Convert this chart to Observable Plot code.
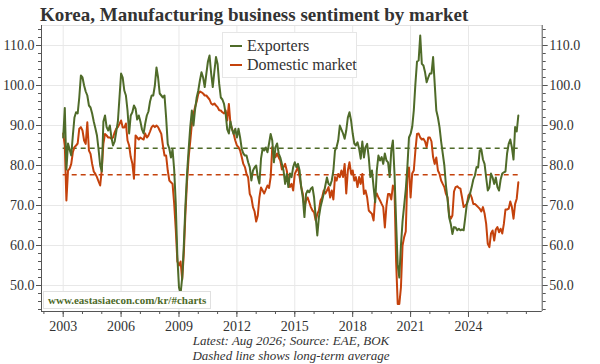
<!DOCTYPE html>
<html><head><meta charset="utf-8">
<script src="https://cdn.jsdelivr.net/npm/d3@7"></script>
<script src="https://cdn.jsdelivr.net/npm/@observablehq/plot@0.6"></script>
<style>
body{margin:0;background:#fff;}
#wrap{position:relative;width:600px;height:364px;font-family:"Liberation Serif",serif;color:#333;}
#chart{position:absolute;left:0;top:0;}
#title{position:absolute;left:40px;top:5px;font-weight:bold;font-size:19px;line-height:19px;color:#333;white-space:nowrap;}
.cap{position:absolute;left:41px;width:500px;text-align:center;font-style:italic;font-size:13px;line-height:13px;color:#333;}
#legend{position:absolute;left:222px;top:32px;width:135px;height:46px;background:#fff;border:1px solid #e6e6e6;box-sizing:border-box;font-size:16px;}
.row{position:absolute;left:7px;white-space:nowrap;line-height:16px;}
.sw{display:inline-block;width:12px;height:2px;vertical-align:middle;margin-right:5px;position:relative;top:-1px;}
#wm{position:absolute;left:43px;top:291px;padding:1px 4px;border:1px solid #e0e0e0;background:#fff;font-weight:bold;font-size:11px;line-height:14px;color:#4e6b2a;white-space:nowrap;}
</style></head><body>
<div id="wrap">
<div id="chart"></div>
<div id="title">Korea, Manufacturing business sentiment by market</div>
<div id="legend"></div>
<div id="wm">www.eastasiaecon.com/kr/#charts</div>
<div class="cap" style="top:334px">Latest: Aug 2026; Source: EAE, BOK</div>
<div class="cap" style="top:349px">Dashed line shows long-term average</div>
</div>
<script>
// Monthly data, Jan 2003 .. Aug 2026
const startYear = 2003;
const seriesNames = ["Exporters", "Domestic market"];
const exporters = [
87,94.4,79,85.5,84,82.5,87.5,92,93.3,93,
97,102.5,102,100,98.5,97.5,95,94.5,93,91,
89.3,87.5,84,80,78.5,91,92.5,89.6,88.75,90,
87,85,86,88.5,91,97,103,102,98.75,97.5,
93.75,88,92.5,93.3,95,94.2,91.5,92.5,91,89,
88,90.5,92.5,93.5,96,97.5,97.5,100,104.5,102,
98,97.5,97,97.5,92,85.4,84.2,82,84,79,
70.5,57,49.5,48,52,60,70,77.9,84,89.6,
93.75,90,94,97,98.75,101.25,103.3,102,99.6,102.9,
106,107.5,103,99.6,103.5,107.1,105.4,100.4,97,96.5,
95.4,93,89,88,91,89,87.9,89.2,87,89.2,
87,84.2,83,82.5,82.5,80.8,79.6,76.25,78.75,79.5,
80,77.1,75.5,81.7,84.2,83.75,84.5,83.3,85.5,87.9,
86.25,80.8,84.6,85.5,83,82,80.4,78.75,75.4,77.9,
74.6,78,77.1,79.6,80.8,79.6,80.4,78.75,74.6,72,
67.1,72.9,73.75,73.3,74.2,74.6,72,67.1,62.5,67.1,
69.6,71.25,73,75,77,75.4,75,76.25,78.75,83.75,
84.6,86.25,90,89,88,86.7,88.75,92,93.3,91.25,
88,85.5,85,85.8,84.2,81.7,86,82,84.6,85.4,
82,77.1,78.75,74.6,70.8,78.75,82.5,81.25,82.1,80.4,
83,81.25,80.8,77.1,83.75,86.25,78,66,55,52,
60,66,70,74,79.6,87,87.9,89.6,93.75,100.4,
106,106.25,112.5,105.4,105,103.3,100.8,102,103,103,
107.1,100.4,93.75,92,89.6,86,83,80,75,71.5,
67,65.4,62.9,64.6,64.5,63.8,64.2,63.8,64,63.8,
67,70.4,71.5,73,74.6,76.5,77.5,79.6,79.5,83.75,
84,81.5,80.4,77,73.75,74.5,78,77,75.4,77,
74.6,73.75,76.5,78,78.3,78.5,83,85.4,86.5,84.5,
81.5,89.6,88.5,92.5
];
const domestic = [
88,85,71.25,78.75,79.2,80.4,83.3,84.6,85,85.5,
89.2,89.6,88.75,86.25,85.4,90.8,83.75,82.9,80.4,78.5,
77.9,77.1,76,75,79,85.5,87.9,87.5,87,87,
86.7,87,88.3,89.2,89.6,90.4,91.25,89.5,89.5,90.5,
86.25,85,82.1,80.5,76.7,87.5,87,86.5,87,86.7,
86.5,88,87,87.5,88.5,89.6,90,89.6,90,89.6,
88.75,87.9,85,82.5,82.5,78.75,76.25,75.8,75.4,70.5,
64,56,55,56,51.5,58,68,76,82,86,
90.4,92.9,94.6,96,97.9,98.5,98.3,98,97.5,97.5,
97,96.5,95.5,95.2,95.5,95,94.6,93.8,93.75,93.3,
93,93.75,91.25,95.4,90.4,89.2,87.9,86.25,85,84.6,
83.75,82.1,80.4,79.6,77.9,77,72.9,72,69.6,68.5,
66,67.5,72,74.5,73.75,73,74,75,74.4,77.1,
84.6,83,82.1,83,82,81.25,79,79.6,80.4,78.75,
76.25,74.6,75.4,73.75,77.9,78.75,79.6,77.1,74.6,72.9,
69.6,71.25,72,70.8,69.6,68.75,68.3,66.25,67.9,68.75,
71.25,72,73.75,73,73.75,74.6,72,73.75,71.5,77.1,
76.25,77.9,77.1,78.75,77.1,80.4,73,78.75,80.8,78,
78.75,76.25,77.1,74.6,77.1,75.4,77.9,72.9,73.75,72,
68.75,68.3,67.9,66.25,72,73,72,71.25,70.4,69.6,
64.5,70,72.9,72.9,71.5,75,74,56,45.4,45.4,
49.5,60,62.1,63.5,77,79.5,72,78,78.75,83.75,
87.9,88,87,86.5,86.7,86,84.6,87,87,86,
82.1,80.4,82,78.75,77.9,76.25,75.4,74.6,72.9,72,
67.5,66.7,67.5,73.5,74.6,74.8,74.4,74.2,72,69.6,
70,70.4,72.5,73,72,70.4,70.4,70,69.6,69.2,
68.5,69.6,68,65.4,60.4,59.6,63,63.75,61.25,64,
64.6,63.3,64.2,63,65.4,69,69,69.2,71,69.6,
66.7,70.4,71.7,75.8
];
const averages = [84.3, 77.7];          // long-term averages (Exporters, Domestic)
const xMajorTicks = [2003, 2006, 2009, 2012, 2015, 2018, 2021, 2024];
const yMajorTicks = [50, 60, 70, 80, 90, 100, 110];
const colors = ["#4f6b29", "#c4420c"];

const toRows = (arr) => arr.map((v, i) => ({t: startYear + i / 12, v}));
const expRows = toRows(exporters);
const domRows = toRows(domestic);
const tFirst = expRows[0].t, tLast = expRows[expRows.length - 1].t;
const avgRows = averages.map((a, i) => ({a, s: seriesNames[i]}));

const xDomain = [2001.876, 2027.82];
const yDomain = [43.5, 115];
const minorX = d3.range(2002, 2028);
const minorY = d3.range(44, 115, 2);
const fmt1 = d => d.toFixed(1);

const chart = Plot.plot({
  width: 600, height: 364,
  marginTop: 25, marginBottom: 53, marginLeft: 41, marginRight: 58.3,
  style: {fontFamily: "Liberation Serif, serif", fontSize: "14px", color: "#333", background: "transparent", overflow: "visible"},
  x: {domain: xDomain},
  y: {domain: yDomain},
  marks: [
    Plot.gridX(xMajorTicks, {stroke: "#e8e8e8", strokeOpacity: 1}),
    Plot.gridY(yMajorTicks, {stroke: "#e8e8e8", strokeOpacity: 1}),
    Plot.ruleY([yDomain[1]], {stroke: "#e2e2e2"}),
    Plot.ruleY(avgRows, {y: "a", x1: tFirst, x2: tLast, stroke: (d, i) => colors[i], strokeDasharray: "5,4", strokeWidth: 1.4}),
    Plot.lineY(domRows, {x: "t", y: "v", stroke: colors[1], strokeWidth: 2}),
    Plot.lineY(expRows, {x: "t", y: "v", stroke: colors[0], strokeWidth: 2}),
    Plot.ruleX([xDomain[0]], {stroke: "#555"}),
    Plot.ruleX([xDomain[1]], {stroke: "#555"}),
    Plot.ruleY([yDomain[0]], {stroke: "#555"}),
    Plot.axisY({anchor: "left", ticks: yMajorTicks, tickFormat: fmt1, tickSize: 5, tickPadding: 2, label: null, stroke: "#555"}),
    Plot.axisY({anchor: "left", ticks: minorY, tickFormat: () => "", tickSize: 3, label: null, stroke: "#555"}),
    Plot.axisY({anchor: "right", ticks: yMajorTicks, tickFormat: fmt1, tickSize: 5, tickPadding: 2, label: null, stroke: "#555"}),
    Plot.axisY({anchor: "right", ticks: minorY, tickFormat: () => "", tickSize: 3, label: null, stroke: "#555"}),
    Plot.axisX({ticks: xMajorTicks, tickFormat: d => String(d), tickSize: 6, tickPadding: 4, label: null, stroke: "#555"}),
    Plot.axisX({ticks: minorX, tickFormat: () => "", tickSize: 3, label: null, stroke: "#555"})
  ]
});
chart.setAttribute("color", "#333");
document.getElementById("chart").appendChild(chart);

const legend = document.getElementById("legend");
seriesNames.forEach((name, i) => {
  const row = document.createElement("div");
  row.className = "row";
  row.style.top = (5 + i * 19) + "px";
  const sw = document.createElement("span");
  sw.className = "sw";
  sw.style.background = colors[i];
  row.appendChild(sw);
  row.appendChild(document.createTextNode(name));
  legend.appendChild(row);
});
</script>
</body></html>
